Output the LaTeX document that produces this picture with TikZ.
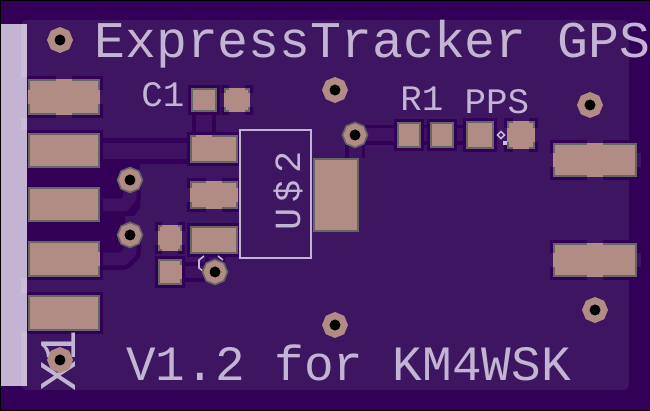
\documentclass[tikz,border=0pt]{standalone}
\usepackage{fontspec}
\setmonofont{Liberation Mono}
\newfontfamily\widemono[LetterSpace=17]{Liberation Mono}
\usepackage{xcolor}
\usetikzlibrary{shapes.geometric}
\definecolor{outerpurple}{HTML}{320056}
\definecolor{pourpurple}{HTML}{3D1560}
\definecolor{tracepurple}{HTML}{3E1163}
\definecolor{silk}{HTML}{C4B4D4}
\definecolor{silklight}{HTML}{CBBDD9}
\definecolor{copper}{HTML}{B08C84}
\definecolor{padedge}{HTML}{666666}
\tikzset{
    iso/.style = {outerpurple},
    isoline/.style = {draw=outerpurple, line join=round},
    traceline/.style = {draw=tracepurple, line join=round},
    silkline/.style = {draw=silk, line width=1.7pt},
    silkthin/.style = {draw=silk, line width=0.9pt},
    viapad/.style = {regular polygon, regular polygon sides=8, shape border rotate=22.5,
        inner sep=0pt, minimum size=0.52cm, fill=copper},
    viaring/.style = {viapad, draw=padedge, line width=0.9pt, minimum size=0.5cm},
    viahole/.style = {circle, inner sep=0pt, minimum size=0.22cm, fill=black},
    bigtext/.style = {silk, font=\ttfamily\fontsize{29.3}{30}\selectfont, inner sep=0pt},
    verstext/.style = {silk, font=\ttfamily\fontsize{28.1}{30}\selectfont, inner sep=0pt},
    smalltext/.style = {silk, font=\ttfamily\fontsize{20.4}{22}\selectfont, inner sep=0pt},
}
% pad with a full edge and a dark halo
\newcommand{\plainpad}[4]{
    \fill[iso] (#1-3,#2-3) rectangle (#3+3,#4+3);
    \fill[padedge] (#1,#2) rectangle (#3,#4);
    \fill[copper] (#1+1.7,#2+1.7) rectangle (#3-1.7,#4-1.7);
}
% pad tied to the pour by four spokes
\newcommand{\spokepad}[4]{
    \fill[iso] (#1-3,#2-3) rectangle (#3+3,#4+3);
    \fill[pourpurple] ({(#1+#3)/2-8},#2-4) rectangle ({(#1+#3)/2+8},#4+4);
    \fill[pourpurple] (#1-4,{(#2+#4)/2-7}) rectangle (#3+4,{(#2+#4)/2+7});
    \fill[padedge] (#1,#2) rectangle (#3,#4);
    \fill[copper] (#1+1.7,#2+1.7) rectangle (#3-1.7,#4-1.7);
    \fill[copper] ({(#1+#3)/2-8},#2) rectangle ({(#1+#3)/2+8},#4);
    \fill[copper] (#1,{(#2+#4)/2-7}) rectangle (#3,{(#2+#4)/2+7});
}
\begin{document}
\begin{tikzpicture}[x=0.02cm,y=-0.02cm]
        \useasboundingbox (0,0) rectangle (650,411);
        \fill[outerpurple] (0,0) rectangle (650,411);
        \fill[pourpurple, rounded corners=3] (21,20) rectangle (629,390);
        \fill[black] (0,0) rectangle (650,1);
        \fill[black] (0,0) rectangle (1,411);
        \fill[black] (0,410) rectangle (650,411);
        %%%% isolation and traces
        \fill[iso] (27,168) rectangle (100,187);
        \fill[iso] (27,222) rectangle (100,241);
        \fill[iso] (100,163) -- (140,163) -- (140,208) -- (134,216) -- (125,216) -- (125,222) -- (118,235) -- (118,253) -- (100,253) -- cycle;
        \draw[isoline, line width=14.7pt] (100,151) -- (190,151);
        \draw[traceline, line width=9.1pt] (100,151) -- (190,151);
        \draw[isoline, line width=13.6pt] (204,112) -- (204,135);
        \draw[traceline, line width=9.1pt] (204,112) -- (204,135);
        \draw[isoline, line width=12.5pt] (100,205) -- (124,205) -- (130,198) -- (130,180);
        \draw[traceline, line width=7.4pt] (100,205) -- (124,205) -- (130,198) -- (130,180);
        \draw[isoline, line width=12.5pt] (100,259) -- (123,259) -- (130,252) -- (130,235);
        \draw[traceline, line width=7.4pt] (100,259) -- (123,259) -- (130,252) -- (130,235);
        \draw[isoline, line width=11pt] (215,254) -- (215,272) -- (182,272);
        \draw[traceline, line width=7pt] (215,254) -- (215,272) -- (182,272);
        \draw[isoline, line width=11pt] (355,158) -- (355,135) -- (397,135);
        \draw[traceline, line width=7.4pt] (355,158) -- (355,135) -- (397,135);
        \draw[isoline, line width=11pt] (421,135) -- (466,135);
        \draw[traceline, line width=7.4pt] (421,135) -- (466,135);
        %%%% pads
        \spokepad{28}{79}{100}{115}
        \plainpad{28}{133}{100}{168}
        \plainpad{28}{187}{100}{222}
        \plainpad{28}{241}{100}{277}
        \plainpad{28}{295}{100}{331}
        \fill[copper] (96,252) rectangle (100,266);
        \plainpad{191}{88}{217}{112}
        \spokepad{224}{88}{250}{112}
        \plainpad{190}{135}{238}{163}
        \spokepad{190}{181}{238}{209}
        \plainpad{190}{226}{238}{254}
        \spokepad{158}{225}{182}{251}
        \plainpad{158}{259}{182}{285}
        \fill[copper] (178,265) rectangle (182,279);
        \fill[copper] (196,135) rectangle (212,137);
        \fill[padedge] (313,158) rectangle (359,232);
        \fill[copper] (315,160) rectangle (357,230);
        \plainpad{397}{122}{421}{148}
        \plainpad{430}{122}{454}{148}
        \plainpad{466}{121}{494}{149}
        \spokepad{507}{121}{535}{149}
        \spokepad{553}{143}{637}{177}
        \fill[padedge] (635.3,143) rectangle (637,177);
        \spokepad{553}{243}{637}{277}
        \fill[padedge] (635.3,243) rectangle (637,277);
        %%%% silkscreen strip at the left edge
        \fill[silk] (1,24) rectangle (27,386);
        \fill[silklight] (21,24) rectangle (27,77);
        \fill[silklight] (21,118) rectangle (27,130);
        \fill[silklight] (21,278) rectangle (27,293);
        \fill[silklight] (21,332) rectangle (27,386);
        %%%% package outline and small marks
        \draw[silkline] (240,130) rectangle (311,258);
        \draw[silkthin] (204,256) -- (199,260) -- (199,268) -- (203,271);
        \draw[silkthin] (218,256) -- (223,260);
        \draw[silkthin] (501,131.5) -- (504.5,135) -- (501,138.5) -- (497.5,135) -- cycle;
        \fill[silklight] (503,141.5) rectangle (507,145.5);
        %%%% text
        \node[bigtext, anchor=west] (title) at (94,44) {ExpressTracker GPS};
        \node[verstext, anchor=west] (version) at (126,363) {V1.2 for KM4WSK};
        \node[bigtext, rotate=90] (xone) at (59,361) {X1};
        \node[smalltext] (cone) at (163,95) {C1};
        \node[smalltext] (rone) at (422,99) {R1};
        \node[smalltext] (pps) at (497,102) {PPS};
        \node[silk, font=\widemono\fontsize{21}{23}\selectfont, inner sep=0pt, rotate=90] (utwo) at (288,191) {U\$2};
        %%%% vias
        \foreach \x/\y in {60/40, 335/90, 335/325, 590/105, 595/310, 60/360} {
            \node[viapad] at (\x,\y) {};
            \node[viahole] at (\x,\y) {};
        }
        \foreach \x/\y in {130/180, 130/235, 215/272, 355/135} {
            \node[viaring] at (\x,\y) {};
            \node[viahole] at (\x,\y) {};
        }
    \end{tikzpicture}
\end{document}
